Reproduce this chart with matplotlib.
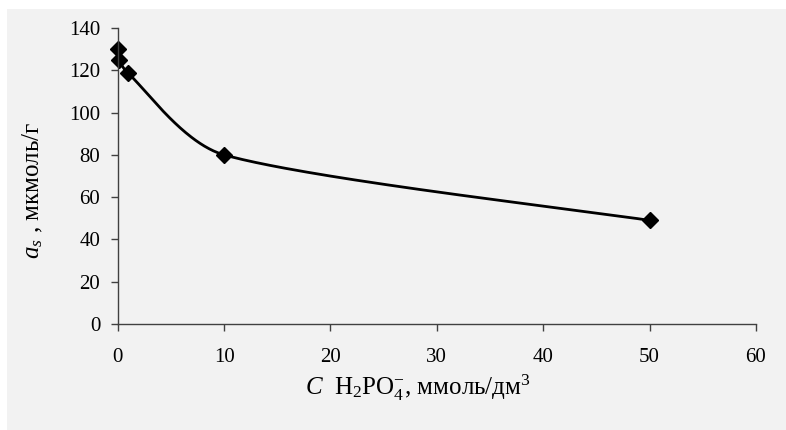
import numpy as np
import matplotlib
matplotlib.use("Agg")
import matplotlib.pyplot as plt
from matplotlib.patches import Rectangle

# данные
conc = [0.0, 0.1, 1.0, 10.0, 50.0]        # C H2PO4-, ммоль/дм3
ads = [130.0, 125.0, 118.5, 80.0, 49.0]   # a_s, мкмоль/г
xticks = [0, 10, 20, 30, 40, 50, 60]
yticks = [0, 20, 40, 60, 80, 100, 120, 140]

plt.rcParams['font.family'] = ['Liberation Serif', 'DejaVu Serif']
plt.rcParams['mathtext.fontset'] = 'custom'
plt.rcParams['mathtext.rm'] = 'Liberation Serif'
plt.rcParams['mathtext.it'] = 'Liberation Serif:italic'

fig = plt.figure(figsize=(7.86, 4.30), dpi=100, facecolor='white')
fig.patches.append(Rectangle((7 / 786, 0), 1, 1 - 9 / 430, transform=fig.transFigure,
                             facecolor='#f2f2f2', edgecolor='none', zorder=-10))
ax = fig.add_axes([117.7 / 786, (430 - 324) / 430, 638.3 / 786, 296 / 430])
ax.set_facecolor('none')
ax.set_xlim(0, 60)
ax.set_ylim(0, 140)


def smooth_curve(xs, ys, ax, n=80):
    # сглаживание как в Excel: кривые Безье в экранных координатах,
    # плечо контрольной точки не длиннее трети отрезка
    pts = ax.transData.transform(np.column_stack([xs, ys]))
    out = []
    for i in range(len(pts) - 1):
        p0 = pts[i - 1] if i > 0 else pts[i]
        p1 = pts[i]
        p2 = pts[i + 1]
        p3 = pts[i + 2] if i + 2 < len(pts) else pts[i + 1]
        seg = np.linalg.norm(p2 - p1)
        d1 = (p2 - p0) / 6
        d2 = (p3 - p1) / 6
        if np.linalg.norm(d1) > seg / 3:
            d1 = d1 / np.linalg.norm(d1) * seg / 3
        if np.linalg.norm(d2) > seg / 3:
            d2 = d2 / np.linalg.norm(d2) * seg / 3
        c1 = p1 + d1
        c2 = p2 - d2
        t = np.linspace(0, 1, n)[:, None]
        out.append((1 - t) ** 3 * p1 + 3 * (1 - t) ** 2 * t * c1
                   + 3 * (1 - t) * t ** 2 * c2 + t ** 3 * p2)
    out = np.vstack(out)
    return ax.transData.inverted().transform(out)


curve = smooth_curve(conc, ads, ax)
ax.plot(curve[:, 0], curve[:, 1], color='black', lw=2, clip_on=False)
ax.plot(conc, ads, linestyle='none', marker='D', ms=8, color='black', clip_on=False)

ax.set_xticks(xticks)
ax.set_yticks(yticks)
for s in ['top', 'right']:
    ax.spines[s].set_visible(False)
for s in ['left', 'bottom']:
    ax.spines[s].set_color('#404040')
    ax.spines[s].set_linewidth(1)
ax.tick_params(direction='out', length=5, width=1, color='#404040', labelsize=15)
ax.tick_params(axis='x', pad=12)
ax.tick_params(axis='y', pad=7.5)

ax.set_xlabel('$C$  H$_2$PO$_4^{-}$, ммоль/дм$^3$', fontsize=18)
ax.xaxis.set_label_coords(0.47, -0.165)
ax.set_ylabel('$a_s$ , мкмоль/г', fontsize=18)
ax.yaxis.set_label_coords(-0.114, 0.45)

fig.savefig('out.png', dpi=100, facecolor=fig.get_facecolor())
